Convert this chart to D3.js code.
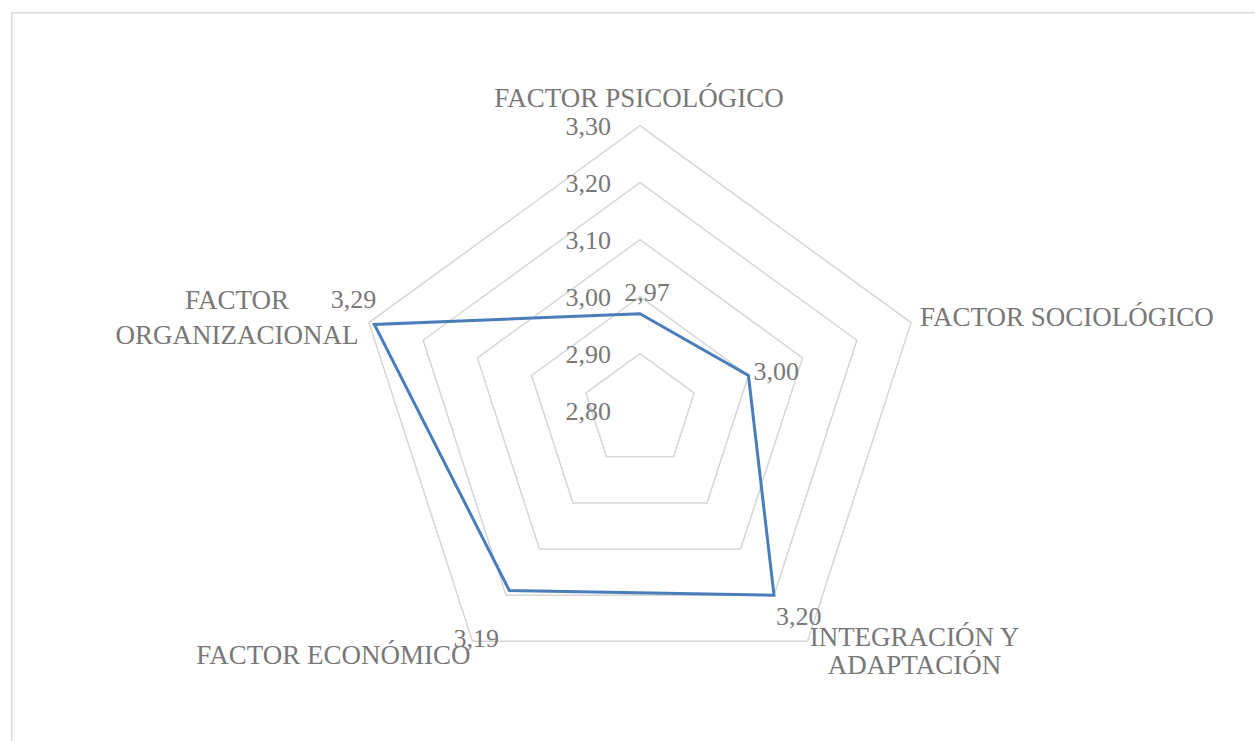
<!DOCTYPE html>
<html>
<head>
<meta charset="utf-8">
<style>
  body { margin: 0; background: #fff; }
  text { font-family: "Liberation Serif", "Times New Roman", serif; font-size: 26px; fill: #787878; }
  text.cat { font-size: 27px; }
  .grid { fill: none; stroke: #d6d6d6; stroke-width: 1.5; }
  .series { fill: none; stroke: #4a7ebb; stroke-width: 3; stroke-linejoin: miter; }
</style>
<script src="https://cdn.jsdelivr.net/npm/d3@7"></script>
</head>
<body>
<script>
// data
var categories = [
  ['FACTOR PSICOLÓGICO'],
  ['FACTOR SOCIOLÓGICO'],
  ['INTEGRACIÓN Y', 'ADAPTACIÓN'],
  ['FACTOR ECONÓMICO'],
  ['FACTOR', 'ORGANIZACIONAL']
];
var values = [2.97, 3.00, 3.20, 3.19, 3.29];
var ticks = [2.80, 2.90, 3.00, 3.10, 3.20, 3.30];

var width = 1255, height = 741,
    cx = 640, cy = 410.7, radius = 285;

var fmt = function(v) { return d3.format('.2f')(v).replace('.', ','); };

// label placement (offsets from the point / outer vertex)
var catPos = [
  {dx: -1, dy: -19, anchor: 'middle', lh: 0},
  {dx: 9, dy: 3, anchor: 'start', lh: 0},
  {dx: 107, dy: 5, anchor: 'middle', lh: 28},
  {dx: -2, dy: 23, anchor: 'end', lh: 0},
  {dx: -132, dy: -14, anchor: 'middle', lh: 35}
];
var valPos = [
  {dx: 7, dy: -13, anchor: 'middle'},
  {dx: 5, dy: 4.5, anchor: 'start'},
  {dx: 2, dy: 30, anchor: 'start'},
  {dx: -33, dy: 56, anchor: 'middle'},
  {dx: 2, dy: -16, anchor: 'end'}
];

var svg = d3.select('body').append('svg')
  .attr('width', width)
  .attr('height', height);

svg.append('rect')
  .attr('x', 11.75).attr('y', 12.75)
  .attr('width', width).attr('height', height)
  .attr('fill', 'none')
  .attr('stroke', '#d9d9d9')
  .attr('stroke-width', 1.5);

var r = d3.scaleLinear().domain([2.8, 3.3]).range([0, radius]);
var angle = d3.scaleLinear().domain([0, categories.length]).range([0, 2 * Math.PI]);

function pt(i, v) {
  var a = angle(i);
  return [cx + r(v) * Math.sin(a), cy - r(v) * Math.cos(a)];
}

var chart = svg.append('g').attr('class', 'chart');

// rings
chart.selectAll('.grid')
  .data(ticks.slice(1))
  .enter()
  .append('polygon')
  .attr('class', 'grid')
  .attr('points', function(t) {
    return categories.map(function(c, i) { return pt(i, t).join(','); }).join(' ');
  });

// tick labels
chart.selectAll('.tick')
  .data(ticks)
  .enter()
  .append('text')
  .attr('class', 'tick')
  .attr('x', cx - 29)
  .attr('y', function(t) { return cy - r(t) + 9.5; })
  .attr('text-anchor', 'end')
  .text(fmt);

// series
chart.append('polygon')
  .attr('class', 'series')
  .attr('points', values.map(function(v, i) { return pt(i, v).join(','); }).join(' '));

// value labels
chart.selectAll('.val')
  .data(values)
  .enter()
  .append('text')
  .attr('class', 'val')
  .attr('x', function(v, i) { return pt(i, v)[0] + valPos[i].dx; })
  .attr('y', function(v, i) { return pt(i, v)[1] + valPos[i].dy; })
  .attr('text-anchor', function(v, i) { return valPos[i].anchor; })
  .text(fmt);

// category labels
chart.selectAll('.cat')
  .data(categories)
  .enter()
  .append('text')
  .attr('class', 'cat')
  .attr('text-anchor', function(c, i) { return catPos[i].anchor; })
  .each(function(c, i) {
    var p = pt(i, 3.3);
    d3.select(this).selectAll('tspan')
      .data(c)
      .enter()
      .append('tspan')
      .attr('x', p[0] + catPos[i].dx)
      .attr('y', function(line, j) { return p[1] + catPos[i].dy + j * catPos[i].lh; })
      .text(function(line) { return line; });
  });
</script>
</body>
</html>
